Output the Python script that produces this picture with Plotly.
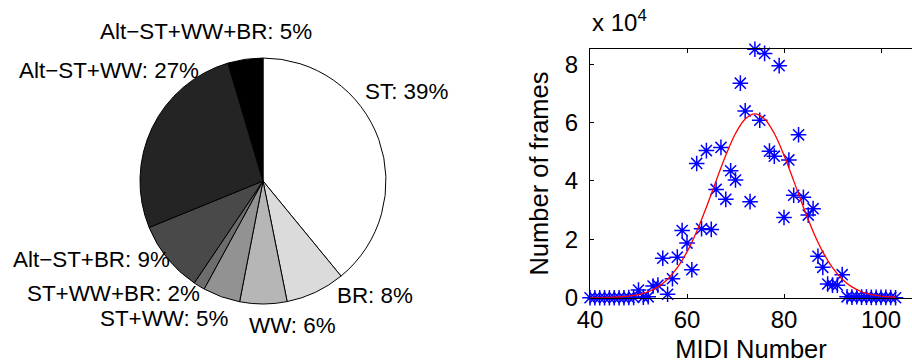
import plotly.graph_objects as go

# ---- Pie data ----
pie_labels = ["ST", "BR", "WW", "ST+WW", "ST+WW+BR", "Alt−ST+BR", "Alt−ST+WW", "Alt−ST+WW+BR"]
pie_values = [39.1, 7.8, 6.2, 4.9, 1.5, 9.4, 26.6, 4.6]
pie_text = ["ST: 39%", "BR: 8%", "WW: 6%", "ST+WW: 5%", "ST+WW+BR: 2%", "Alt−ST+BR: 9%", "Alt−ST+WW: 27%", "Alt−ST+WW+BR: 5%"]
pie_colors = ["#ffffff", "#dbdbdb", "#b6b6b6", "#929292", "#6d6d6d", "#494949", "#242424", "#000000"]

# ---- Scatter data (MIDI number vs frame counts) ----
midi = list(range(40, 104))
frames = [0, 0, 0, 0, 0, 0, 0, 0, 50, 100,
          2600, 200, 300, 4000, 4300, 13500, 1200, 6500, 13900, 23000,
          18700, 9600, 46000, 23600, 50400, 23400, 37100, 51500, 33700, 43500,
          40300, 73500, 64000, 32900, 85100, 60800, 83700, 50200, 48500, 79500,
          27500, 47200, 35100, 55800, 34400, 28300, 30500, 14200, 10400, 4700,
          4300, 4300, 7900, 300, 200, 300, 200, 200, 100, 100,
          100, 100, 50, 0]

# ---- Fitted curve ----
fit_x = [40, 42, 44, 46, 48, 50, 52, 54, 56, 58, 60, 62, 64, 66, 68, 70, 72, 74,
         76, 78, 80, 82, 84, 86, 88, 90, 92, 94, 96, 98, 100, 102, 103]
fit_y = [17, 44, 107, 243, 523, 1063, 2040, 3700, 6340, 10270, 15710, 22700, 31020,
         40030, 48810, 56250, 61240, 63000, 61240, 56250, 48810, 40030, 31020, 22700,
         15710, 10270, 6340, 3700, 2040, 1063, 523, 243, 160]

y_tickvals = [0, 20000, 40000, 60000, 80000]
y_ticktext = ["0", "2", "4", "6", "8"]
x_tickvals = [40, 60, 80, 100]

W, H = 912, 364
FONT = "Liberation Sans, Arial, Helvetica, sans-serif"

fig = go.Figure()

# pie geometry (pixels)
cx, cy, R = 263, 181, 123
fig.add_trace(go.Pie(
    labels=pie_labels, values=pie_values, sort=False, direction="clockwise",
    rotation=0, textinfo="none", hoverinfo="label+percent",
    marker=dict(colors=pie_colors, line=dict(color="black", width=1)),
    domain=dict(x=[(cx - R) / W, (cx + R) / W], y=[1 - (cy + R) / H, 1 - (cy - R) / H]),
    showlegend=False,
))

# pie label positions (pixels: left x, center y)
label_pos = [(363, 91), (335, 295), (247, 325), (98, 318), (25, 293), (11, 259), (17, 70), (98, 31)]
for t, (lx, ly) in zip(pie_text, label_pos):
    fig.add_annotation(x=lx / W, y=1 - ly / H, xref="paper", yref="paper", text=t,
                       showarrow=False, xanchor="left", yanchor="middle",
                       font=dict(family=FONT, size=22.4, color="black"))

fig.add_trace(go.Scatter(
    x=midi, y=frames, mode="markers", cliponaxis=False,
    marker=dict(symbol="asterisk-open", size=13, color="#0000ff",
                line=dict(color="#0000ff", width=1.5)),
    xaxis="x", yaxis="y", showlegend=False,
))
fig.add_trace(go.Scatter(
    x=fit_x, y=fit_y, mode="lines", line=dict(color="red", width=1.3, shape="spline"),
    xaxis="x", yaxis="y", showlegend=False,
))

x0px, x1px, y0px, y1px = 590, 912, 297.7, 49.3
fig.update_layout(
    width=W, height=H, margin=dict(l=0, r=0, t=0, b=0),
    paper_bgcolor="white", plot_bgcolor="white",
    font=dict(family=FONT, size=22, color="black"),
    xaxis=dict(domain=[x0px / W, x1px / W], range=[40, 40 + (x1px - x0px) / 4.85],
               tickvals=x_tickvals, ticks="inside", ticklen=4, tickcolor="black",
               showline=True, linecolor="black", linewidth=1, mirror="ticks",
               showgrid=False, zeroline=False, tickfont=dict(size=24),
               ticklabelstandoff=0, automargin=False,
               title=dict(text="MIDI Number", font=dict(size=25.5), standoff=8),
               anchor="y"),
    yaxis=dict(domain=[1 - y0px / H, 1 - y1px / H], range=[0, 85100],
               tickvals=y_tickvals, ticktext=y_ticktext, ticks="inside", ticklen=4,
               tickcolor="black", showline=True, linecolor="black", linewidth=1,
               showgrid=False, zeroline=False, tickfont=dict(size=24),
               ticklabelstandoff=6, automargin=False,
               title=dict(text="Number of frames", font=dict(size=25.5), standoff=8),
               anchor="x"),
)
fig.add_annotation(x=x0px / W, y=1 - 38 / H, xref="paper", yref="paper",
                   text="x 10<sup>4</sup>", showarrow=False, xanchor="left", yanchor="bottom",
                   font=dict(family=FONT, size=24, color="black"))

fig.write_html("out.html", config={"displayModeBar": False},
               post_script="document.body.style.margin='0';document.body.style.overflow='hidden';")
